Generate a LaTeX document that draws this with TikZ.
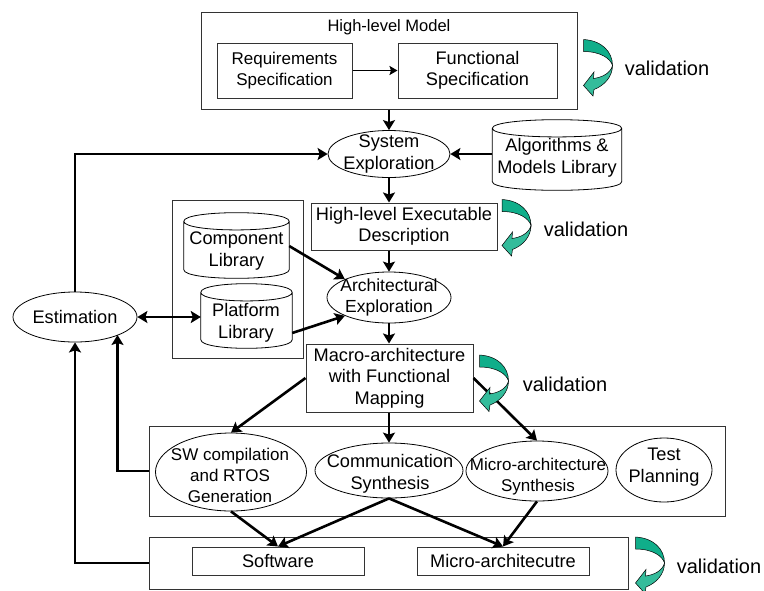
\documentclass[tikz,border=0pt]{standalone}
\usepackage{fontspec}
\setmainfont{Liberation Sans}
\usetikzlibrary{positioning, arrows.meta, shapes.geometric}
\definecolor{valdark}{HTML}{10AE8A}
\definecolor{vallight}{HTML}{34BC9B}
\newcommand{\drumoutline}[1]{%
  \draw[line width=0.8pt] ([yshift=-8.5pt]#1.north west) -- ([yshift=8.5pt]#1.south west)
    .. controls ([yshift=-3pt]#1.south west) and ([yshift=-3pt]#1.south east) .. ([yshift=8.5pt]#1.south east)
    -- ([yshift=-8.5pt]#1.north east)
    .. controls ([yshift=3pt]#1.north east) and ([yshift=3pt]#1.north west) .. ([yshift=-8.5pt]#1.north west)
    .. controls ([yshift=-20pt]#1.north west) and ([yshift=-20pt]#1.north east) .. ([yshift=-8.5pt]#1.north east);
}
\tikzset{
  every node/.style={font=\fontsize{18.2}{21.5}\selectfont, align=center, inner sep=0pt, text=black},
  smalltext/.style={font=\fontsize{17}{21}\selectfont},
  valtext/.style={font=\fontsize{20}{24}\selectfont},
  plainbox/.style={draw=black!80, line width=1pt, rectangle},
  oval/.style={draw=black, line width=0.8pt, ellipse, inner sep=-12pt},
  libdb/.style={rectangle},
  flow/.style={line width=2.6pt, -{Stealth[length=10pt,width=12pt,inset=2pt]}},
  thinflow/.style={line width=1.8pt, -{Stealth[length=8pt,width=9pt,inset=1.5pt]}},
  heavy/.style={line width=2.9pt, -{Stealth[length=10pt,width=12pt,inset=2pt]}},
  pics/validarrow/.style={code={
    \fill[vallight, draw=black, line width=0.5pt] (29,26) .. controls (29,37) and (21,46) .. (10.5,50)
      -- (9.5,56.5) -- (0,46) -- (10.5,32.5) -- (10,39) .. controls (18,38) and (27,34) .. (29,26) -- cycle;
    \fill[valdark, draw=black, line width=0.5pt] (0,0) .. controls (18,1) and (29,12) .. (29,26)
      .. controls (27,19) and (17,12) .. (0,12) -- cycle;
  }}
}
\begin{document}
\begin{tikzpicture}[x=1pt,y=-1pt]
\useasboundingbox (0,0) rectangle (764,590);
% --- High-level model ---
\node[plainbox, minimum width=376pt, minimum height=97pt] (model) at (389,60.5) {};
\node[font=\fontsize{16.5}{21}\selectfont] (modeltitle) at (389,27) {High-level Model};
\node[plainbox, smalltext, minimum width=135pt, minimum height=55pt] (reqspec) at (284.5,70.5) {Requirements\\Specification};
\node[plainbox, minimum width=159pt, minimum height=55pt] (funcspec) at (477.5,70.5) {Functional\\Specification};
% --- Exploration ---
\node[oval, minimum width=122pt, minimum height=47pt] (sysexp) at (389,154) {System\\Exploration};
\node[libdb, minimum width=129pt, minimum height=70pt] (algolib) at (557,155) {};
\drumoutline{algolib}
\node (algotext) at (557,158) {Algorithms \&\\Models Library};
\node[plainbox, minimum width=186pt, minimum height=47pt] (hlexec) at (404,226.5) {High-level Executable\\Description};
% --- Libraries ---
\node[plainbox, minimum width=131pt, minimum height=158pt] (libbox) at (237.5,279) {};
\node[libdb, minimum width=105pt, minimum height=65pt] (complib) at (236.5,245.5) {};
\drumoutline{complib}
\node (comptext) at (236.5,251) {Component\\Library};
\node[libdb, minimum width=91pt, minimum height=64pt] (platlib) at (246.5,316) {};
\drumoutline{platlib}
\node (plattext) at (246,323) {Platform\\Library};
\node[oval, font=\fontsize{17.5}{21}\selectfont, minimum width=124pt, minimum height=51pt] (archexp) at (389,297.5) {Architectural\\Exploration};
\node[oval, minimum width=124pt, minimum height=50pt] (estim) at (75,317) {Estimation};
\node[plainbox, minimum width=167pt, minimum height=68pt] (macro) at (389.5,378) {Macro-architecture\\with Functional\\Mapping};
% --- Synthesis band ---
\node[plainbox, minimum width=576pt, minimum height=90pt] (synthband) at (437,471) {};
\node[oval, minimum width=151pt, minimum height=78pt] (swgen) at (231,472) {};
\node[smalltext] (swtext) at (230,475) {SW compilation\\and RTOS\\Generation};
\node[oval, minimum width=148pt, minimum height=55pt] (commsyn) at (389,470.5) {};
\node (commtext) at (390,474) {Communication\\Synthesis};
\node[oval, minimum width=142pt, minimum height=60pt] (microsyn) at (537,471) {};
\node[smalltext] (microtext) at (538,477) {Micro-architecture\\Synthesis};
\node[oval, minimum width=96pt, minimum height=64pt] (testplan) at (664,470) {};
\node (testtext) at (664,467) {Test\\Planning};
% --- Result band ---
\node[plainbox, minimum width=479pt, minimum height=52pt] (resband) at (388.5,563) {};
\node[plainbox, minimum width=172pt, minimum height=28pt] (software) at (278,561) {Software};
\node[plainbox, minimum width=172pt, minimum height=28pt] (microarch) at (503,561) {Micro-architecutre};
% --- Connectors ---
\draw[flow] (model.south) -- (sysexp.north);
\draw[thinflow] (reqspec.east) -- (funcspec.west);
\draw[flow] (algolib.west |- sysexp.east) -- (sysexp.east);
\draw[flow] (sysexp.south) -- (archexp.north |- hlexec.north);
\draw[flow] (archexp.north |- hlexec.south) -- (archexp.north);
\draw[flow] (complib.east |- 0,246) -- (archexp.north west);
\draw[flow] (platlib.east |- 0,333) -- (archexp.south west);
\draw[flow] (archexp.south) -- (macro.north -| archexp.south);
\draw[heavy, {Stealth[length=10pt,width=12pt,inset=2pt]}-{Stealth[length=10pt,width=12pt,inset=2pt]}] (estim.east) -- (platlib.west |- estim.east);
\draw[heavy] (estim.north) |- (sysexp.west);
\draw[heavy] (synthband.west) -- ++(-31,0) coordinate (bandturn) -- (bandturn |- estim.south east);
\draw[heavy] (resband.west) -| (estim.south);
\draw[flow] (macro.west) -- (swgen.north);
\draw[flow] (macro.south -| commsyn.north) -- (commsyn.north);
\draw[flow] (macro.east) -- (microsyn.north);
\draw[flow] (swgen.south) -- (software.north);
\draw[flow] (commsyn.south) -- (software.north);
\draw[flow] (commsyn.south) -- (microarch.north);
\draw[flow] (microsyn.south) -- (microarch.north);
% --- Validation ---
\pic at (583.5,39.5) {validarrow};
\node[valtext] (val1) at (667,68) {validation};
\pic at (502,199.5) {validarrow};
\node[valtext] (val2) at (586,229) {validation};
\pic at (479.5,355) {validarrow};
\node[valtext] (val3) at (565,384) {validation};
\pic at (635.5,537) {validarrow};
\node[valtext] (val4) at (719,566) {validation};
\end{tikzpicture}
\end{document}
